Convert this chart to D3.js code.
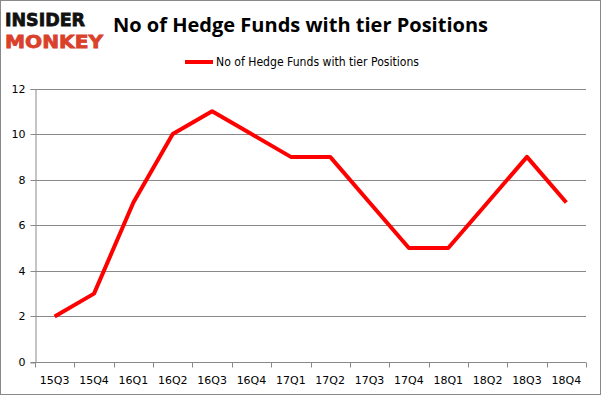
<!DOCTYPE html>
<html>
<head>
<meta charset="utf-8">
<script src="https://cdn.jsdelivr.net/npm/d3@7"></script>
<style>
  body { margin: 0; background: #fff; }
  svg { display: block; }
</style>
</head>
<body>
<div id="chart"></div>
<script>
const quarters = ['15Q3', '15Q4', '16Q1', '16Q2', '16Q3', '16Q4', '17Q1', '17Q2', '17Q3', '17Q4', '18Q1', '18Q2', '18Q3', '18Q4'];
const funds = [2, 3, 7, 10, 11, 10, 9, 9, 7, 5, 5, 7, 9, 7];
const yTicks = [0, 2, 4, 6, 8, 10, 12];
const seriesName = 'No of Hedge Funds with tier Positions';

const width = 601;
const height = 395;
const margin = { top: 88.5, right: 15, bottom: 33, left: 35 };

const svg = d3.select('#chart').append('svg')
  .attr('width', width)
  .attr('height', height);

// outer frame
svg.append('rect')
  .attr('x', 0.5).attr('y', 0.5)
  .attr('width', width - 1).attr('height', height - 1)
  .attr('fill', '#fff')
  .attr('stroke', '#898989');

// logo
svg.append('text')
  .attr('x', 5).attr('y', 26)
  .attr('textLength', 80).attr('lengthAdjust', 'spacingAndGlyphs')
  .attr('font-family', 'DejaVu Sans').attr('font-weight', 'bold')
  .attr('font-size', 18).attr('fill', '#111')
  .attr('stroke', '#111').attr('stroke-width', 0.8)
  .text('INSIDER');
svg.append('text')
  .attr('x', 5).attr('y', 47.5)
  .attr('textLength', 98).attr('lengthAdjust', 'spacingAndGlyphs')
  .attr('font-family', 'DejaVu Sans').attr('font-weight', 'bold')
  .attr('font-size', 18).attr('fill', '#d9412b')
  .attr('stroke', '#d9412b').attr('stroke-width', 0.8)
  .text('MONKEY');

// title
svg.append('text')
  .attr('x', 113).attr('y', 32)
  .attr('textLength', 375).attr('lengthAdjust', 'spacingAndGlyphs')
  .attr('font-family', 'Open Sans, sans-serif').attr('font-weight', 'bold')
  .attr('font-size', 20).attr('fill', '#000')
  .text(seriesName);

// legend
svg.append('line')
  .attr('x1', 185).attr('x2', 213)
  .attr('y1', 62).attr('y2', 62)
  .attr('stroke', '#ff0000').attr('stroke-width', 4);
svg.append('text')
  .attr('x', 216).attr('y', 66)
  .attr('textLength', 203).attr('lengthAdjust', 'spacingAndGlyphs')
  .attr('font-family', 'DejaVu Sans, sans-serif')
  .attr('font-size', 12).attr('fill', '#000')
  .text(seriesName);

const x = d3.scaleBand()
  .domain(quarters)
  .range([margin.left, width - margin.right]);

const y = d3.scaleLinear()
  .domain([0, 12])
  .range([height - margin.bottom, margin.top]);

// gridlines
svg.append('g')
  .selectAll('line')
  .data(yTicks.filter(d => d > 0))
  .enter()
  .append('line')
  .attr('x1', margin.left).attr('x2', width - margin.right)
  .attr('y1', d => Math.round(y(d)) + 0.5).attr('y2', d => Math.round(y(d)) + 0.5)
  .attr('stroke', '#898989');

// y axis
const yAxis = svg.append('g')
  .attr('transform', `translate(${margin.left + 0.5},0.5)`)
  .call(d3.axisLeft(y).tickValues(yTicks).tickSize(5).tickPadding(5));
yAxis.select('.domain').attr('stroke', '#898989');
yAxis.selectAll('.tick line').attr('stroke', '#898989');
yAxis.selectAll('.tick').attr('transform', d => `translate(0,${Math.round(y(d))})`);
yAxis.selectAll('text')
  .attr('font-family', 'DejaVu Sans, sans-serif')
  .attr('font-size', 11).attr('fill', '#000');

// x axis
const bottom = Math.round(y(0)) + 0.5;
const xAxis = svg.append('g')
  .attr('transform', `translate(0,${bottom})`);
xAxis.append('line')
  .attr('x1', margin.left).attr('x2', width - margin.right)
  .attr('stroke', '#898989');
xAxis.selectAll('.xtick')
  .data(quarters.concat(['end']))
  .enter()
  .append('line')
  .attr('class', 'xtick')
  .attr('x1', (d, i) => Math.round(margin.left + i * x.step()) + 0.5)
  .attr('x2', (d, i) => Math.round(margin.left + i * x.step()) + 0.5)
  .attr('y1', 0).attr('y2', 5)
  .attr('stroke', '#898989');
xAxis.selectAll('.xlabel')
  .data(quarters)
  .enter()
  .append('text')
  .attr('class', 'xlabel')
  .attr('x', d => x(d) + x.bandwidth() / 2)
  .attr('y', 21)
  .attr('text-anchor', 'middle')
  .attr('font-family', 'DejaVu Sans, sans-serif')
  .attr('font-size', 11).attr('fill', '#000')
  .text(d => d);

// series line
const line = d3.line()
  .x((d, i) => x(quarters[i]) + x.bandwidth() / 2)
  .y(d => y(d));

svg.append('path')
  .datum(funds)
  .attr('d', line)
  .attr('fill', 'none')
  .attr('stroke', '#ff0000')
  .attr('stroke-width', 4)
  .attr('stroke-linejoin', 'round');
</script>
</body>
</html>
